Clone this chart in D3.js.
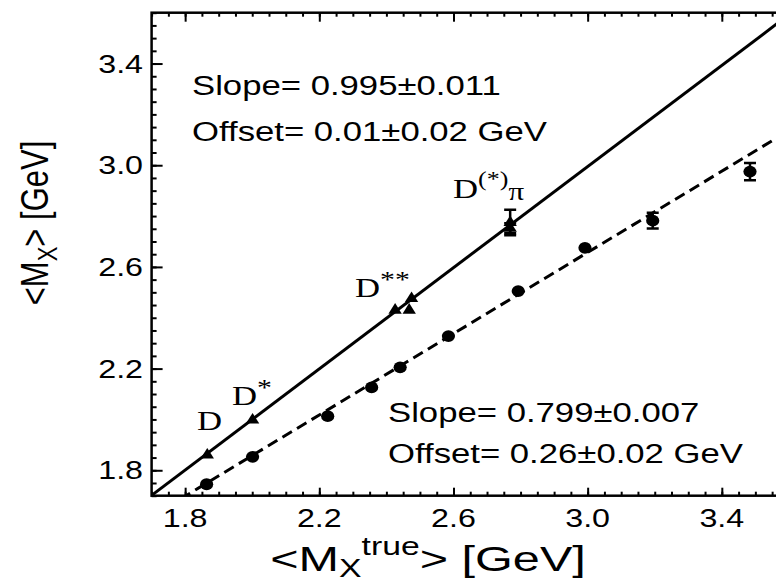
<!DOCTYPE html>
<html>
<head>
<meta charset="utf-8">
<script src="https://cdn.jsdelivr.net/npm/d3@7"></script>
<style>
  body { margin: 0; background: #fff; }
  text { fill: #000; }
</style>
</head>
<body>
<svg id="chart" width="776" height="584"></svg>
<script>
// Reconstructed mass vs. true mass, dashed fit (full-reco) sample
const dashedX   = [1.864, 2.001, 2.225, 2.356, 2.441, 2.585, 2.793, 2.992, 3.194, 3.484];
const dashedY   = [1.745, 1.853, 2.013, 2.126, 2.205, 2.328, 2.505, 2.675, 2.782, 2.975];
const dashedErr = [0, 0, 0, 0, 0, 0, 0, 0, 0.031, 0.034];

// Calibrated mass vs. true mass for the exclusive modes (solid fit)
const solidX   = [1.866, 2.001, 2.426, 2.468, 2.475, 2.769, 2.769];
const solidY   = [1.860, 1.998, 2.430, 2.430, 2.476, 2.775, 2.752];
const solidErr = [0, 0, 0, 0, 0, 0.05, 0.02];

// Straight-line fit results
const solidSlope = 0.995, solidSlopeErr = "0.011", solidOffset = 0.01, solidOffsetErr = "0.02";
const dashSlope  = 0.799, dashSlopeErr  = "0.007", dashOffset  = 0.26, dashOffsetErr  = "0.02";

// Axis ticks
const majorTicks = [1.8, 2.2, 2.6, 3.0, 3.4];
const minorTicks = d3.range(0, 39).map(i => +(1.7 + i * 0.05).toFixed(2));

const x = d3.scaleLinear().domain([1.7, 3.6]).range([151.6, 788.9]);
const y = d3.scaleLinear().domain([1.7, 3.6]).range([495.7, 12.7]);
const SX = 1.24; // horizontal glyph stretch

const svg = d3.select("#chart");
const defs = svg.append("defs");
defs.append("clipPath").attr("id", "plotclip")
  .append("rect")
  .attr("x", x(1.7)).attr("y", y(3.6))
  .attr("width", x(3.6) - x(1.7)).attr("height", y(1.7) - y(3.6));

const font = "'Liberation Sans', Arial, Helvetica, sans-serif";
const serif = "'Liberation Serif', 'Times New Roman', serif";

// ---- axes: ticks inside the frame on all four sides
function tickAxis(axisFn, tr, vals, size) {
  const g = svg.append("g").attr("transform", tr)
    .call(axisFn.tickValues(vals).tickSize(size).tickFormat(""));
  g.select(".domain").remove();
  g.selectAll(".tick line").attr("stroke", "#000").attr("stroke-width", 2);
  return g;
}
const bottomT = `translate(0,${y(1.7)})`, topT = `translate(0,${y(3.6)})`, leftT = `translate(${x(1.7)},0)`;
tickAxis(d3.axisBottom(x), bottomT, minorTicks, -4);
tickAxis(d3.axisBottom(x), bottomT, majorTicks, -8);
tickAxis(d3.axisTop(x), topT, minorTicks, -4);
tickAxis(d3.axisTop(x), topT, majorTicks, -9);
tickAxis(d3.axisLeft(y), leftT, minorTicks, -5);
tickAxis(d3.axisLeft(y), leftT, majorTicks, -11);

// frame
svg.append("rect")
  .attr("x", x(1.7)).attr("y", y(3.6))
  .attr("width", x(3.6) - x(1.7)).attr("height", y(1.7) - y(3.6))
  .attr("fill", "none").attr("stroke", "#000").attr("stroke-width", 2.5);

// tick labels
const fmt = d3.format(".1f");
svg.append("g").selectAll("text").data(majorTicks).join("text")
  .attr("transform", d => `translate(${x(d)},527) scale(${SX},1)`)
  .attr("text-anchor", "middle")
  .style("font-family", font).style("font-size", "26px")
  .text(fmt);
svg.append("g").selectAll("text").data(majorTicks).join("text")
  .attr("transform", d => `translate(143,${y(d) + 9}) scale(${SX},1)`)
  .attr("text-anchor", "end")
  .style("font-family", font).style("font-size", "26px")
  .text(fmt);

// axis titles
const xt = svg.append("text")
  .attr("transform", `translate(428,571) scale(1.35,1)`)
  .attr("text-anchor", "middle")
  .style("font-family", font).style("font-size", "36px");
xt.append("tspan").text("<M");
xt.append("tspan").attr("dy", 6).style("font-size", "25px").text("X");
xt.append("tspan").attr("dy", -22).style("font-size", "25px").text("true");
xt.append("tspan").attr("dy", 16).text("> [GeV]");

const yt = svg.append("text")
  .attr("transform", `translate(48,223) rotate(-90) scale(1,${SX})`)
  .attr("text-anchor", "middle")
  .style("font-family", font).style("font-size", "31px");
yt.append("tspan").text("<M");
yt.append("tspan").attr("dy", 7).style("font-size", "22px").text("X");
yt.append("tspan").attr("dy", -7).text("> [GeV]");

// ---- fit lines
const plot = svg.append("g").attr("clip-path", "url(#plotclip)");
const line = d3.line().x(d => x(d[0])).y(d => y(d[1]));
const xs = [1.7, 3.6];
plot.append("path")
  .datum(xs.map(v => [v, solidSlope * v + solidOffset]))
  .attr("d", line).attr("fill", "none").attr("stroke", "#000").attr("stroke-width", 3);
plot.append("path")
  .datum(xs.map(v => [v, dashSlope * v + dashOffset]))
  .attr("d", line).attr("fill", "none").attr("stroke", "#000").attr("stroke-width", 3)
  .attr("stroke-dasharray", "11,6");

// ---- error bars
function errBars(xv, yv, ev) {
  const d = xv.map((v, i) => ({ x: v, y: yv[i], e: ev[i] })).filter(p => p.e > 0);
  const g = plot.append("g").attr("stroke", "#000").attr("stroke-width", 2.5);
  g.selectAll(".v").data(d).join("line")
    .attr("x1", p => x(p.x)).attr("x2", p => x(p.x))
    .attr("y1", p => y(p.y - p.e)).attr("y2", p => y(p.y + p.e));
  g.selectAll(".t").data(d.flatMap(p => [p.y - p.e, p.y + p.e].map(v => ({ x: p.x, v })))).join("line")
    .attr("x1", p => x(p.x) - 6).attr("x2", p => x(p.x) + 6)
    .attr("y1", p => y(p.v)).attr("y2", p => y(p.v));
}
errBars(dashedX, dashedY, dashedErr);
errBars(solidX, solidY, solidErr);

// ---- markers
plot.append("g").selectAll("ellipse").data(dashedX).join("ellipse")
  .attr("cx", d => x(d)).attr("cy", (d, i) => y(dashedY[i]))
  .attr("rx", 6.6).attr("ry", 5.9).attr("fill", "#000");
const tri = d3.symbol(d3.symbolTriangle, 64);
plot.append("g").selectAll("path").data(solidX).join("path")
  .attr("transform", (d, i) => `translate(${x(d)},${y(solidY[i])}) scale(1.1,1)`)
  .attr("d", tri).attr("fill", "#000");

// ---- fit result annotations
function note(px, py, str) {
  svg.append("text")
    .attr("transform", `translate(${px},${py}) scale(${SX},1)`)
    .style("font-family", font).style("font-size", "28px")
    .text(str);
}
note(192, 95,  `Slope= ${solidSlope.toFixed(3)}±${solidSlopeErr}`);
note(192, 141, `Offset= ${solidOffset.toFixed(2)}±${solidOffsetErr} GeV`);
note(388, 422, `Slope= ${dashSlope.toFixed(3)}±${dashSlopeErr}`);
note(388, 463, `Offset= ${dashOffset.toFixed(2)}±${dashOffsetErr} GeV`);

// ---- mode labels
function mode(px, py, parts) {
  const t = svg.append("text")
    .attr("transform", `translate(${px},${py}) scale(${SX},1)`)
    .style("font-family", serif).style("font-size", "28px");
  parts.forEach(p => {
    const s = t.append("tspan").text(p.t);
    if (p.dy) s.attr("dy", p.dy);
    if (p.fs) s.style("font-size", p.fs);
  });
}
mode(197, 430, [{ t: "D" }]);
mode(232, 405, [{ t: "D" }, { t: "*", dy: -10, fs: "24px" }]);
mode(355, 297, [{ t: "D" }, { t: "**", dy: -10, fs: "24px" }]);
mode(453, 198, [{ t: "D" }, { t: "(*)", dy: -12, fs: "21px" }, { t: "π", dy: 14, fs: "25px" }]);
</script>
</body>
</html>
